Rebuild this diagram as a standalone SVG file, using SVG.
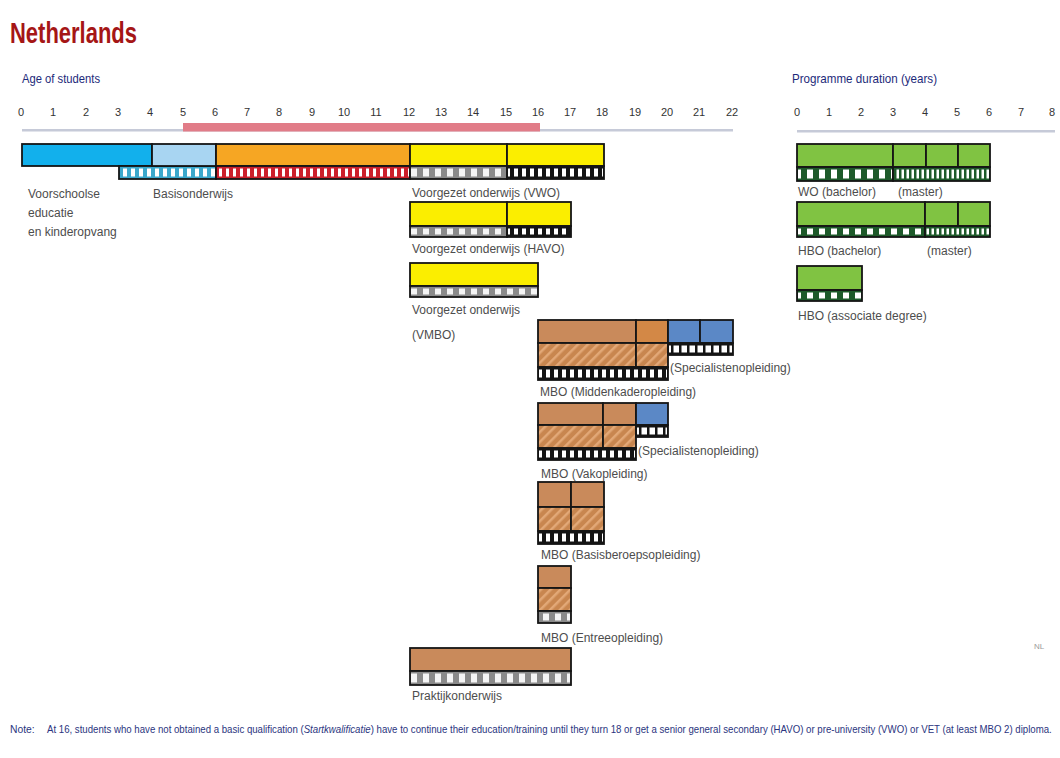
<svg xmlns="http://www.w3.org/2000/svg" width="1060" height="758" viewBox="0 0 1060 758">
<defs>
<pattern id="pBlue" patternUnits="userSpaceOnUse" x="1" y="0" width="8" height="10"><rect width="8" height="10" fill="#3aa8cc"/><rect x="2" width="4" height="10" fill="#ffffff"/></pattern>
<pattern id="pRed" patternUnits="userSpaceOnUse" x="0" y="0" width="7" height="10"><rect width="7" height="10" fill="#cc1f2b"/><rect x="2" width="3" height="10" fill="#ffffff"/></pattern>
<pattern id="pGray" patternUnits="userSpaceOnUse" x="0" y="0" width="12" height="10"><rect width="12" height="10" fill="#8a8a8a"/><rect x="3" width="6" height="10" fill="#f4f4f4"/></pattern>
<pattern id="pBlack" patternUnits="userSpaceOnUse" x="0" y="0" width="8" height="10"><rect width="8" height="10" fill="#141414"/><rect x="2" width="4" height="10" fill="#ffffff"/></pattern>
<pattern id="pWhite" patternUnits="userSpaceOnUse" x="0" y="0" width="8" height="10"><rect width="8" height="10" fill="#141414"/><rect x="1.5" width="5.5" height="10" fill="#ffffff"/></pattern>
<pattern id="pGreenSq" patternUnits="userSpaceOnUse" x="0" y="0" width="12" height="10"><rect width="12" height="10" fill="#1d5a2a"/><rect x="3" width="6" height="10" fill="#ffffff"/></pattern>
<pattern id="pGreenFine" patternUnits="userSpaceOnUse" x="0" y="0" width="5" height="10"><rect width="5" height="10" fill="#1d5a2a"/><rect x="1.5" width="2.5" height="10" fill="#ffffff"/></pattern>
<pattern id="pHatch" patternUnits="userSpaceOnUse" width="7" height="7" patternTransform="rotate(45)"><rect width="7" height="7" fill="#c8864f"/><rect width="2.5" height="7" fill="#e2a877"/></pattern>
<style>
.c{stroke:#151515;stroke-width:1.8}
.blue{fill:#12b0ec}
.lblue{fill:#a8d5f2}
.orange{fill:#f6a623}
.yellow{fill:#fbee00}
.brown{fill:#c98a5b}
.brown2{fill:#d38846}
.steel{fill:#5b88c6}
.green{fill:#80c342}
.hatch{fill:url(#pHatch)}
.lbl{font-family:"Liberation Sans",Arial,sans-serif;font-size:12px;fill:#4d4d4d}
.num{font-family:"Liberation Sans",Arial,sans-serif;font-size:11px;fill:#333;text-anchor:middle}
.hdr{font-family:"Liberation Sans",Arial,sans-serif;font-size:13px;fill:#1d2a7a}
</style>
</defs>
<rect width="1060" height="758" fill="#ffffff"/>

<text x="10" y="43" font-family="Liberation Sans, Arial, sans-serif" font-size="29" font-weight="bold" fill="#a51616" textLength="127" lengthAdjust="spacingAndGlyphs">Netherlands</text>

<g id="axis-age">
<text class="hdr" x="22" y="83" textLength="78" lengthAdjust="spacingAndGlyphs">Age of students</text>
<g class="num">
<text x="21" y="116">0</text><text x="53" y="116">1</text><text x="86" y="116">2</text><text x="118" y="116">3</text><text x="150" y="116">4</text><text x="183" y="116">5</text><text x="215" y="116">6</text><text x="247" y="116">7</text><text x="279" y="116">8</text><text x="312" y="116">9</text><text x="344" y="116">10</text><text x="376" y="116">11</text><text x="409" y="116">12</text><text x="441" y="116">13</text><text x="473" y="116">14</text><text x="506" y="116">15</text><text x="538" y="116">16</text><text x="570" y="116">17</text><text x="602" y="116">18</text><text x="635" y="116">19</text><text x="667" y="116">20</text><text x="699" y="116">21</text><text x="732" y="116">22</text>
</g>
<rect x="22" y="129" width="711" height="2.5" fill="#c6cad8"/>
<rect x="183" y="123" width="357" height="8.5" fill="#e17c88"/>
</g>

<g id="axis-duration">
<text class="hdr" x="792" y="83" textLength="145" lengthAdjust="spacingAndGlyphs">Programme duration (years)</text>
<g class="num">
<text x="797" y="116">0</text><text x="829" y="116">1</text><text x="861" y="116">2</text><text x="893" y="116">3</text><text x="925" y="116">4</text><text x="957" y="116">5</text><text x="989" y="116">6</text><text x="1021" y="116">7</text><text x="1052" y="116">8</text>
</g>
<rect x="797" y="130" width="258" height="2.5" fill="#c6cad8"/>
</g>

<g id="voorschoolse">
<rect class="c blue" x="22" y="144" width="130" height="22"/>
<rect class="c" x="119" y="166" width="97" height="13" fill="#3aa8cc"/>
<rect x="120" y="168.5" width="95" height="8" fill="url(#pBlue)"/>
<text class="lbl" x="28" y="198">Voorschoolse</text>
<text class="lbl" x="28" y="217">educatie</text>
<text class="lbl" x="28" y="236">en kinderopvang</text>
</g>

<g id="basisonderwijs">
<rect class="c lblue" x="152" y="144" width="64" height="22"/>
<rect class="c orange" x="216" y="144" width="194" height="22"/>
<rect class="c" x="216" y="166" width="194" height="13" fill="#cc1f2b"/>
<rect x="217" y="168.5" width="192" height="8" fill="url(#pRed)"/>
<text class="lbl" x="153" y="198">Basisonderwijs</text>
</g>

<g id="vwo">
<rect class="c yellow" x="410" y="144" width="97" height="22"/>
<rect class="c yellow" x="507" y="144" width="97" height="22"/>
<rect class="c" x="410" y="166" width="97" height="13" fill="#8a8a8a"/>
<rect x="411" y="168.5" width="95" height="8" fill="url(#pGray)"/>
<rect class="c" x="507" y="166" width="97" height="13" fill="#141414"/>
<rect x="508" y="168.5" width="95" height="8" fill="url(#pBlack)"/>
<text class="lbl" x="412" y="197">Voorgezet onderwijs (VWO)</text>
</g>

<g id="havo">
<rect class="c yellow" x="410" y="202" width="97" height="24"/>
<rect class="c yellow" x="507" y="202" width="64" height="24"/>
<rect class="c" x="410" y="226" width="97" height="11" fill="#8a8a8a"/>
<rect x="411" y="228.5" width="95" height="6" fill="url(#pGray)"/>
<rect class="c" x="507" y="226" width="64" height="11" fill="#141414"/>
<rect x="508" y="228.5" width="62" height="6" fill="url(#pBlack)"/>
<text class="lbl" x="412" y="253">Voorgezet onderwijs (HAVO)</text>
</g>

<g id="vmbo">
<rect class="c yellow" x="410" y="263" width="128" height="23"/>
<rect class="c" x="410" y="286" width="128" height="11" fill="#8a8a8a"/>
<rect x="411" y="288.5" width="126" height="6" fill="url(#pGray)"/>
<text class="lbl" x="412" y="314">Voorgezet onderwijs</text>
<text class="lbl" x="412" y="339">(VMBO)</text>
</g>

<g id="mbo-middenkader">
<rect class="c brown" x="538" y="320" width="98" height="23"/>
<rect class="c brown2" x="636" y="320" width="32" height="23"/>
<rect class="c hatch" x="538" y="343" width="98" height="24"/>
<rect class="c hatch" x="636" y="343" width="32" height="24"/>
<rect class="c" x="538" y="367" width="130" height="13" fill="#141414"/>
<rect x="539" y="369.5" width="128" height="8" fill="url(#pBlack)"/>
<text class="lbl" x="540" y="396">MBO (Middenkaderopleiding)</text>
</g>

<g id="specialisten-1">
<rect class="c steel" x="668" y="320" width="32" height="23"/>
<rect class="c steel" x="700" y="320" width="33" height="23"/>
<rect class="c" x="668" y="343" width="65" height="12" fill="#141414"/>
<rect x="669" y="345.5" width="63" height="7" fill="url(#pWhite)"/>
<text class="lbl" x="670" y="372">(Specialistenopleiding)</text>
</g>

<g id="mbo-vak">
<rect class="c brown" x="538" y="403" width="65" height="22"/>
<rect class="c brown" x="603" y="403" width="33" height="22"/>
<rect class="c hatch" x="538" y="425" width="65" height="23"/>
<rect class="c hatch" x="603" y="425" width="33" height="23"/>
<rect class="c" x="538" y="448" width="98" height="12" fill="#141414"/>
<rect x="539" y="450.5" width="96" height="7" fill="url(#pBlack)"/>
<text class="lbl" x="541" y="478">MBO (Vakopleiding)</text>
</g>

<g id="specialisten-2">
<rect class="c steel" x="636" y="403" width="32" height="22"/>
<rect class="c" x="636" y="425" width="32" height="12" fill="#141414"/>
<rect x="637" y="427.5" width="30" height="7" fill="url(#pWhite)"/>
<text class="lbl" x="638" y="455">(Specialistenopleiding)</text>
</g>

<g id="mbo-basis">
<rect class="c brown" x="538" y="482" width="33" height="25"/>
<rect class="c brown" x="571" y="482" width="33" height="25"/>
<rect class="c hatch" x="538" y="507" width="33" height="24"/>
<rect class="c hatch" x="571" y="507" width="33" height="24"/>
<rect class="c" x="538" y="531" width="66" height="13" fill="#141414"/>
<rect x="539" y="533.5" width="64" height="8" fill="url(#pBlack)"/>
<text class="lbl" x="541" y="559">MBO (Basisberoepsopleiding)</text>
</g>

<g id="mbo-entree">
<rect class="c brown" x="538" y="566" width="33" height="22"/>
<rect class="c hatch" x="538" y="588" width="33" height="23"/>
<rect class="c" x="538" y="611" width="33" height="12" fill="#8a8a8a"/>
<rect x="539" y="613.5" width="31" height="7" fill="url(#pGray)"/>
<text class="lbl" x="541" y="642">MBO (Entreeopleiding)</text>
</g>

<g id="praktijkonderwijs">
<rect class="c brown" x="410" y="648" width="161" height="23"/>
<rect class="c" x="410" y="671" width="161" height="14" fill="#8a8a8a"/>
<rect x="411" y="673.5" width="159" height="9" fill="url(#pGray)"/>
<text class="lbl" x="412" y="700">Praktijkonderwijs</text>
</g>

<g id="wo">
<rect class="c green" x="797" y="144" width="96" height="23"/>
<rect class="c green" x="893" y="144" width="33" height="23"/>
<rect class="c green" x="926" y="144" width="32" height="23"/>
<rect class="c green" x="958" y="144" width="32" height="23"/>
<rect class="c" x="797" y="167" width="96" height="14" fill="#1d5a2a"/>
<rect x="798" y="169.5" width="94" height="9" fill="url(#pGreenSq)"/>
<rect class="c" x="893" y="167" width="97" height="14" fill="#1d5a2a"/>
<rect x="894" y="169.5" width="95" height="9" fill="url(#pGreenFine)"/>
<text class="lbl" x="798" y="196">WO (bachelor)</text>
<text class="lbl" x="898" y="196">(master)</text>
</g>

<g id="hbo">
<rect class="c green" x="797" y="202" width="128" height="24"/>
<rect class="c green" x="925" y="202" width="33" height="24"/>
<rect class="c green" x="958" y="202" width="32" height="24"/>
<rect class="c" x="797" y="226" width="128" height="11" fill="#1d5a2a"/>
<rect x="798" y="228.5" width="126" height="6" fill="url(#pGreenSq)"/>
<rect class="c" x="925" y="226" width="65" height="11" fill="#1d5a2a"/>
<rect x="926" y="228.5" width="63" height="6" fill="url(#pGreenFine)"/>
<text class="lbl" x="798" y="255">HBO (bachelor)</text>
<text class="lbl" x="927" y="255">(master)</text>
</g>

<g id="hbo-associate">
<rect class="c green" x="797" y="266" width="65" height="24"/>
<rect class="c" x="797" y="290" width="65" height="11" fill="#1d5a2a"/>
<rect x="798" y="292.5" width="63" height="6" fill="url(#pGreenSq)"/>
<text class="lbl" x="798" y="320">HBO (associate degree)</text>
</g>

<g id="connectors"/>

<text x="1034" y="649" font-family="Liberation Sans, Arial, sans-serif" font-size="8" fill="#9a9a9a">NL</text>

<g id="note" font-family="Liberation Sans, Arial, sans-serif" font-size="10.3" fill="#2b3580">
<text x="10" y="733">Note:</text>
<text transform="translate(47,733) scale(0.937,1)" x="0" y="0">At 16, students who have not obtained a basic qualification (<tspan font-style="italic">Startkwalificatie</tspan>) have to continue their education/training until they turn 18 or get a senior general secondary (HAVO) or pre-university (VWO) or VET (at least MBO 2) diploma.</text>
</g>
</svg>
